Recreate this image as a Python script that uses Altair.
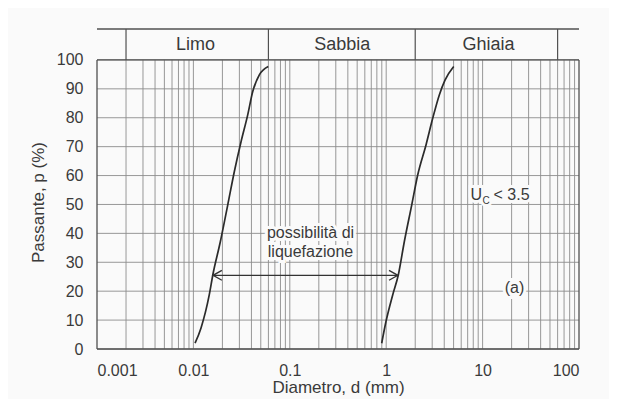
import altair as alt
import pandas as pd

# ---- data ----
diam_ticks = [0.001, 0.01, 0.1, 1, 10, 100]
pass_ticks = [0, 10, 20, 30, 40, 50, 60, 70, 80, 90, 100]
decades = [0.001, 0.01, 0.1, 1, 10]
multiples = [1, 2, 3, 4, 5, 6, 7, 8, 9]
grid_d = [round(d * m, 6) for d in decades for m in multiples if d * m > 0.001]

boundaries = [0.002, 0.06, 2, 60]
classes = ["Limo", "Sabbia", "Ghiaia"]
class_center = [0.0105, 0.35, 11.5]

left_d = [0.0104, 0.0120, 0.0146, 0.0159, 0.0190, 0.0227, 0.0266, 0.0312, 0.0366, 0.0412, 0.0483, 0.0598]
left_p = [2.0, 7.3, 18.7, 25.6, 37.0, 49.8, 61.4, 71.7, 81.0, 89.0, 94.8, 97.7]
right_d = [0.898, 0.995, 1.168, 1.335, 1.541, 1.839, 2.122, 2.588, 3.037, 3.556, 4.074, 5.015]
right_p = [2.0, 9.5, 18.7, 25.6, 37.1, 49.8, 60.2, 70.6, 79.8, 87.9, 93.0, 97.7]

arrow_from, arrow_to, arrow_p = 0.0160, 1.32, 25.5
x_lo, x_hi = 0.001, 100
p_top, band_top = 100, 110.7

liq_text = ["possibilità di", "liquefazione"]
liq_x = [0.164, 0.164]
liq_y = [40.0, 33.5]
uc_x, uc_y = 7.49, 53.4
a_x, a_y = 21.4, 21.0

FONT = "Liberation Sans"
TXT = "#3a3a3a"
BG = "#fafafa"
GRID = "#8c8c8c"
FRAME = "#505050"

xs = alt.Scale(type="log", domain=[x_lo, x_hi], nice=False)
ys = alt.Scale(domain=[0, band_top], nice=False, zero=False)

xax = alt.Axis(values=diam_ticks, format="~g", grid=False, ticks=False, tickSize=0,
               domain=False, labelFont=FONT, labelFontSize=16, labelColor=TXT,
               labelPadding=13, labelOverlap=False, title="Diametro, d (mm)", titleFont=FONT,
               titleFontSize=17, titleFontWeight="normal", titleColor=TXT,
               titleBaseline="middle", titleY=38)
yax = alt.Axis(values=pass_ticks, grid=False, ticks=False, tickSize=0, domain=False,
               labelFont=FONT, labelFontSize=16, labelColor=TXT, labelPadding=14,
               labelOverlap=False,
               title="Passante, p (%)", titleFont=FONT, titleFontSize=17,
               titleFontWeight="normal", titleColor=TXT, titleAngle=-90,
               titleAlign="center", titleBaseline="middle", titleX=-59, titleY=173)


def X(field):
    return alt.X(field, type="quantitative", scale=xs, axis=xax)


def Y(field):
    return alt.Y(field, type="quantitative", scale=ys, axis=yax)


def XD(v):
    return alt.datum(v, type="quantitative", scale=xs, axis=xax)


def YD(v):
    return alt.datum(v, type="quantitative", scale=ys, axis=yax)


# horizontal grid lines
hgrid = alt.Chart(pd.DataFrame({"p": pass_ticks})).mark_rule(color=GRID, strokeWidth=0.9).encode(
    y=Y("p"), x=XD(x_lo), x2=alt.datum(x_hi)
)

# vertical grid lines
vgrid = alt.Chart(pd.DataFrame({"d": grid_d})).mark_rule(color=GRID, strokeWidth=0.9).encode(
    x=X("d"), y=YD(0), y2=alt.datum(p_top)
)

# header boundaries
hb = alt.Chart(pd.DataFrame({"d": boundaries})).mark_rule(color=FRAME, strokeWidth=1.2).encode(
    x=X("d"), y=YD(p_top), y2=alt.datum(band_top)
)

# horizontal frame lines
hf = alt.Chart(pd.DataFrame({"p": [0, p_top, band_top]})).mark_rule(color=FRAME, strokeWidth=1.3).encode(
    y=Y("p"), x=XD(x_lo), x2=alt.datum(x_hi)
)

# vertical frame lines
vf = alt.Chart(pd.DataFrame({"d": [x_lo, x_hi]})).mark_rule(color=FRAME, strokeWidth=1.3).encode(
    x=X("d"), y=YD(0), y2=alt.datum(p_top)
)

curves_df = pd.DataFrame({
    "d": left_d + right_d,
    "p": left_p + right_p,
    "s": ["a"] * len(left_d) + ["b"] * len(right_d),
    "o": list(range(len(left_d))) + list(range(len(right_d))),
})
curves = alt.Chart(curves_df).mark_line(color="#2b2b2b", strokeWidth=1.7, interpolate="monotone").encode(
    x=X("d"), y=Y("p"), detail="s:N", order="o:Q"
)

arrow_df = pd.DataFrame({"a": [arrow_from], "b": [arrow_to], "p": [arrow_p]})
shaft = alt.Chart(arrow_df).mark_rule(color="#333333", strokeWidth=1.3).encode(
    x=X("a"), x2="b:Q", y=Y("p")
)
head_l = alt.Chart(arrow_df).mark_point(
    shape="M1.6,-0.9L0,0L1.6,0.9", size=121, filled=False, color="#333333", strokeWidth=1.4, opacity=1
).encode(x=X("a"), y=Y("p"))
head_r = alt.Chart(arrow_df).mark_point(
    shape="M-1.6,-0.9L0,0L-1.6,0.9", size=121, filled=False, color="#333333", strokeWidth=1.4, opacity=1
).encode(x=X("b"), y=Y("p"))


def label(df, size, align="center", dx=0, dy=0, halo=True):
    base = alt.Chart(df).encode(x=X("x"), y=Y("y"), text="t:N")
    h = None
    if halo:
        h = base.mark_text(font=FONT, fontSize=size, align=align, dx=dx, dy=dy,
                           baseline="middle", color=BG, stroke=BG, strokeWidth=6)
    t = base.mark_text(font=FONT, fontSize=size, align=align, dx=dx, dy=dy,
                       baseline="middle", color=TXT)
    return h, t


liq_df = pd.DataFrame({"x": liq_x, "y": liq_y, "t": liq_text})
uc_u = pd.DataFrame({"x": [uc_x], "y": [uc_y], "t": ["U"]})
uc_c = pd.DataFrame({"x": [uc_x], "y": [uc_y], "t": ["C"]})
uc_r = pd.DataFrame({"x": [uc_x], "y": [uc_y], "t": ["< 3.5"]})
a_df = pd.DataFrame({"x": [a_x], "y": [a_y], "t": ["(a)"]})
hdr_df = pd.DataFrame({"x": class_center, "y": [105.0] * 3, "t": classes})

pairs = [
    label(liq_df, 16),
    label(uc_u, 16, align="left"),
    label(uc_c, 10, align="left", dx=12, dy=6),
    label(uc_r, 16, align="left", dx=23),
    label(a_df, 16),
    label(hdr_df, 18, halo=False),
]
halos = [h for h, _ in pairs if h is not None]
fronts = [t for _, t in pairs]

chart = alt.layer(hgrid, vgrid, hb, hf, vf, curves, shaft, head_l, head_r, *halos, *fronts).properties(
    width=482, height=320, background=BG,
    padding={"left": 89, "top": 21, "right": 30, "bottom": 50},
    autosize=alt.AutoSizeParams(type="none"),
).configure_view(stroke=None)

chart.save("out.html", embed_options={"renderer": "svg", "actions": False})
